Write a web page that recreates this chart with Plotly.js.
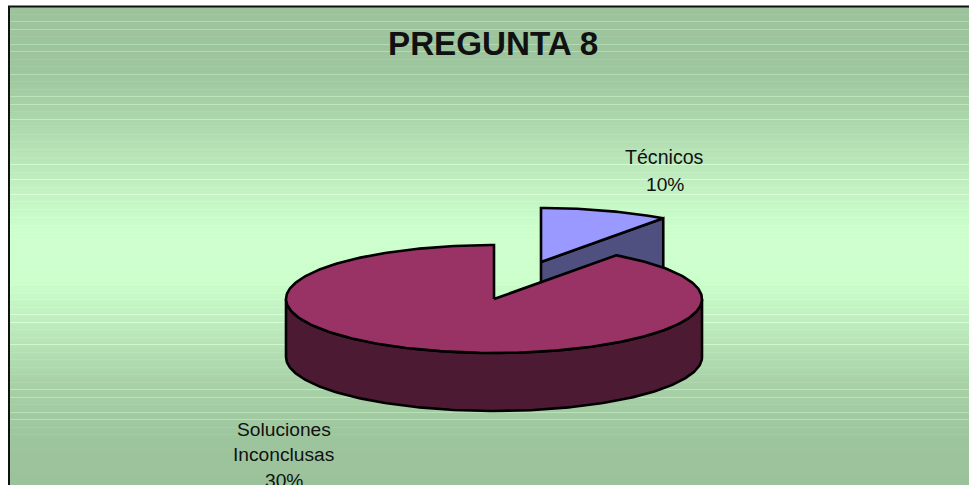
<!DOCTYPE html>
<html><head><meta charset="utf-8">
<script src="https://cdn.plot.ly/plotly-3.0.1.min.js"></script>
<style>html,body{margin:0;padding:0;background:#fff;overflow:hidden}</style>
</head><body><div id="chart" style="width:969px;height:485px"></div>
<script>
const chartTitle = "PREGUNTA 8";
const categories = ["Técnicos", "Soluciones Inconclusas"];
const sliceValues = [10, 90];
const percentLabels = ["10%", "30%"];
const topColors = ["#9999ff", "#993366"];
const sideColors = ["#4f4f80", "#4d1a33"];
const strongBands = [21,29,44,51,74,96,104,119,164,179,194,314,322,344,389,397,412,419];
const faintBands = [14,36,59,66,81,89,111,126,134,141,149,157,172,187,201,209,217,225,232,239,246,254,262,269,277,284,292,299,307,329,337,352,359,367,374,382,404,427,434];
const gradientStops = [[7,[156,195,156]],[70,[158,198,158]],[120,[172,214,172]],[180,[192,238,192]],[230,[204,255,204]],[280,[204,255,204]],[330,[188,233,188]],[380,[169,210,169]],[440,[157,197,157]],[485,[155,194,155]]];

const W = 969, H = 485;
const cx = 494, cy = 299, rx = 208, ry = 54, depth = 58;
const explode = [47, -37];
const total = sliceValues.reduce((a, b) => a + b, 0);
const span0 = sliceValues[0] / total * 360;

const rad = d => d * Math.PI / 180;
const rim = (a, ox, oy) => [cx + ox + rx * Math.sin(rad(a)), cy + oy - ry * Math.cos(rad(a))];
function arc(a0, a1, ox, oy) { const p = []; const n = Math.ceil(Math.abs(a1 - a0)); for (let i = 0; i <= n; i++) p.push(rim(a0 + (a1 - a0) * i / n, ox, oy)); return p; }
function poly(points, fill) {
  const closed = points.concat([points[0]]);
  return { type: "scatter", mode: "lines", x: closed.map(p => p[0]), y: closed.map(p => p[1]), fill: "toself", fillcolor: fill,
    line: { color: "#000", width: 2.6, shape: "linear" }, hoverinfo: "skip", showlegend: false };
}

const [ex, ey] = explode;
const apexT = [cx + ex, cy + ey];
const rimT = rim(span0, ex, ey);
const traces = [
  poly([apexT, rimT, [rimT[0], rimT[1] + depth], [apexT[0], apexT[1] + depth]], sideColors[0]),
  poly([apexT].concat(arc(0, span0, ex, ey)), topColors[0]),
  poly(arc(90, 270, 0, 0).concat(arc(270, 90, 0, depth)), sideColors[1]),
  poly([[cx, cy]].concat(arc(span0, 360, 0, 0)), topColors[1])
];

function colorAt(y) {
  for (let i = 1; i < gradientStops.length; i++) {
    const [y0, c0] = gradientStops[i - 1], [y1, c1] = gradientStops[i];
    if (y <= y1) { const t = (y - y0) / (y1 - y0); return c0.map((v, k) => v + (c1[k] - v) * t); }
  }
  return gradientStops[gradientStops.length - 1][1];
}
const shapes = [];
for (let y = 7; y < H; y++) {
  let c = colorAt(y);
  const lift = strongBands.includes(y) ? 22 : faintBands.includes(y) ? 5 : 0;
  c = c.map(v => Math.min(255, v + lift));
  const col = "rgb(" + c.map(Math.round).join(",") + ")";
  shapes.push({ type: "rect", xref: "x", yref: "y", layer: "below", x0: 9, x1: W, y0: y, y1: y + 1, fillcolor: col, line: { width: 0 } });
}
shapes.push({ type: "line", xref: "x", yref: "y", layer: "below", x0: 9, x1: 9, y0: 6, y1: H, line: { color: "#111", width: 2 } });
shapes.push({ type: "line", xref: "x", yref: "y", layer: "below", x0: 8, x1: W, y0: 6.5, y1: 6.5, line: { color: "#111", width: 2 } });

const txt = (t, x, y, size, bold) => ({ text: bold ? "<b>" + t + "</b>" : t, x, y, xref: "x", yref: "y", showarrow: false, xanchor: "center", yanchor: "middle",
  font: { family: "Liberation Sans, Arial, sans-serif", size, color: "#111" } });
const solWords = categories[1].split(" ");
const annotations = [
  txt(chartTitle, 493, 43, 33.2, true),
  txt(categories[0], 664.5, 157, 19.6),
  txt(percentLabels[0], 664.5, 184, 19.2),
  txt(solWords[0], 283.5, 429, 19.2),
  txt(solWords[1], 283.5, 454, 19.2),
  txt(percentLabels[1], 283.5, 480, 19.2)
];

Plotly.newPlot("chart", traces, {
  width: W, height: H, margin: { l: 0, r: 0, t: 0, b: 0, pad: 0 },
  paper_bgcolor: "#fff", plot_bgcolor: "rgba(0,0,0,0)", showlegend: false,
  xaxis: { range: [0, W], visible: false, fixedrange: true },
  yaxis: { range: [H, 0], visible: false, fixedrange: true },
  shapes, annotations
}, { displayModeBar: false, staticPlot: true });
</script></body></html>
